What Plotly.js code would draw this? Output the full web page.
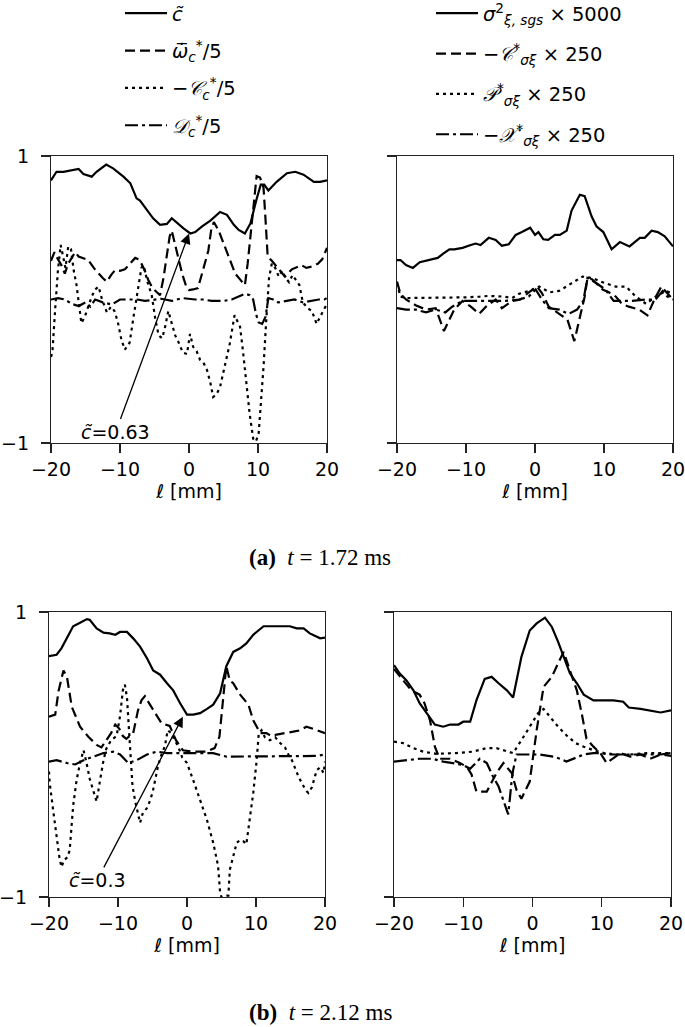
<!DOCTYPE html>
<html>
<head>
<meta charset="utf-8">
<script src="https://cdn.plot.ly/plotly-3.0.1.min.js"></script>
<style>html,body{margin:0;padding:0;background:#fff;}#plot{width:685px;height:1027px;}</style>
</head>
<body>
<div id="plot"></div>
<script>
// ---------- DATA ----------
// Panel (a) left, t = 1.72 ms
const aL_c_x = [-20,-19.2,-18.2,-17.2,-16,-15.3,-14.1,-13.4,-12,-11,-9.5,-8.5,-7.6,-7.1,-6.1,-5.2,-4.2,-3.2,-2.5,-1.8,-0.8,0.2,0.9,1.9,3.1,4.5,5.5,6.5,7.2,8.1,8.9,9.8,10.4,10.9,11.5,12.7,14.2,15.4,16.6,18.1,19,20];
const aL_c_y = [0.83,0.89,0.89,0.90,0.91,0.875,0.856,0.89,0.94,0.914,0.856,0.81,0.705,0.69,0.62,0.566,0.52,0.527,0.566,0.535,0.496,0.46,0.47,0.51,0.55,0.61,0.59,0.52,0.485,0.46,0.53,0.70,0.80,0.80,0.76,0.82,0.88,0.89,0.87,0.82,0.82,0.83];
const aL_w_x = [-20,-19.5,-19,-18.5,-18,-17.5,-17,-16.5,-16,-15.3,-14.6,-13.8,-13.1,-12.5,-11.9,-11.3,-10.7,-10,-9.3,-8.5,-7.8,-7.3,-6.9,-6.4,-5.9,-5.3,-4.7,-4.2,-3.7,-3.2,-2.8,-2.5,-2.1,-1.6,-1.0,-0.4,0.0,0.6,1.3,2.0,2.8,3.2,3.6,4.3,5.2,6.0,6.7,7.4,8.1,8.5,8.9,9.3,9.8,10.3,10.8,11.1,11.4,12.0,13.0,13.9,14.9,16.3,17.0,17.8,18.7,19.3,20];
const aL_w_y = [0.27,0.33,0.28,0.24,0.18,0.25,0.29,0.33,0.30,0.29,0.275,0.22,0.18,0.15,0.124,0.17,0.206,0.20,0.21,0.25,0.29,0.28,0.25,0.20,0.136,0.08,0.054,0.03,0.15,0.32,0.44,0.48,0.40,0.30,0.18,0.09,0.066,0.07,0.08,0.20,0.34,0.48,0.54,0.48,0.37,0.26,0.18,0.14,0.10,0.25,0.44,0.65,0.86,0.85,0.78,0.55,0.30,0.27,0.21,0.16,0.21,0.24,0.22,0.23,0.25,0.28,0.36];
const aL_C_x = [-20,-19.8,-19.4,-19.0,-18.6,-18.2,-17.9,-17.5,-17.1,-16.7,-16.3,-15.9,-15.6,-15.1,-14.6,-14.1,-13.6,-13.1,-12.6,-11.9,-11.3,-10.8,-10.3,-9.8,-9.3,-8.6,-8.1,-7.4,-6.9,-6.6,-6.0,-5.4,-4.9,-4.4,-3.9,-3.5,-3.0,-2.6,-2.0,-1.5,-0.9,-0.3,0.15,0.6,1.1,1.6,2.1,2.6,3.1,3.5,4.0,4.5,5.2,5.9,6.6,7.0,7.4,7.8,8.3,8.8,9.3,9.7,10.1,10.5,10.8,11.2,11.6,12.0,12.5,13.0,13.5,14.0,14.5,15.0,15.5,16.0,16.5,17.2,17.8,18.5,19.0,19.7,20];
const aL_C_y = [-0.40,-0.37,-0.07,0.20,0.38,0.30,0.22,0.37,0.35,0.20,0.10,-0.05,-0.165,-0.12,-0.05,0.02,0.07,0.09,0.0,-0.09,-0.05,-0.08,-0.16,-0.28,-0.35,-0.30,-0.14,0.09,0.22,0.24,0.12,0.03,-0.13,-0.25,-0.27,-0.20,-0.08,-0.15,-0.25,-0.30,-0.37,-0.38,-0.24,-0.33,-0.36,-0.42,-0.44,-0.49,-0.58,-0.68,-0.66,-0.61,-0.45,-0.31,-0.11,-0.15,-0.19,-0.35,-0.58,-0.80,-0.97,-0.99,-0.93,-0.70,-0.47,-0.14,0.15,0.25,0.22,0.16,0.20,0.15,0.12,0.17,0.13,0.10,-0.02,-0.06,-0.08,-0.17,-0.12,-0.05,-0.03];
const aL_D_x = [-20,-19,-18,-17,-16,-15,-14.3,-13.6,-12.5,-11.2,-10,-8.8,-7.5,-6.4,-5,-4,-2.5,-1,0.9,2,3.3,5,6.2,7.2,8.1,8.8,9.3,9.7,10.1,10.6,11.1,11.5,12.2,12.9,14,15.3,16.5,17.7,18.8,19.6,20];
const aL_D_y = [0.0,0.01,0.0,-0.03,-0.045,-0.02,-0.05,0.0,-0.02,-0.035,0.0,0.0,0.0,-0.01,0.0,0.005,-0.01,0.01,0.0,0.0,-0.01,-0.01,0.0,0.02,0.04,0.03,0.0,-0.10,-0.16,-0.17,-0.12,0.01,0.0,-0.02,-0.01,0.0,-0.02,-0.01,0.0,0.0,0.01];

// Panel (a) right
const aR_s_x = [-20,-19.5,-18.7,-17.7,-16.7,-15.3,-14.1,-13.3,-12.4,-11.7,-10.5,-9.3,-8.6,-7.9,-6.7,-5.7,-4.8,-3.8,-2.8,-1.9,-0.7,0.0,0.5,1.2,1.9,2.9,3.6,4.6,5.3,6.5,7.2,8.2,8.9,9.9,11.1,12.3,13.7,15.2,15.9,16.9,17.8,18.8,20];
const aR_s_y = [0.275,0.275,0.24,0.22,0.26,0.275,0.29,0.32,0.35,0.35,0.36,0.38,0.39,0.38,0.43,0.415,0.375,0.385,0.45,0.47,0.50,0.45,0.47,0.42,0.415,0.45,0.45,0.48,0.62,0.73,0.72,0.58,0.51,0.47,0.35,0.40,0.37,0.43,0.43,0.48,0.47,0.44,0.37];
const aR_C_x = [-20,-19.5,-18.7,-17.3,-15.8,-14.4,-13.2,-12.4,-11.7,-10.5,-9.3,-8.1,-7.1,-5.7,-4.8,-3.3,-2.1,-0.9,0.3,1.0,2.0,3.5,4.7,5.7,6.4,7.2,7.6,8.3,9.8,10.7,11.7,12.6,13.6,15.1,16.3,17.3,18.3,19.2,20];
const aR_C_y = [0.125,0.04,0.0,-0.04,-0.07,-0.06,-0.22,-0.14,-0.07,-0.01,-0.05,-0.10,-0.05,0.0,-0.06,-0.01,0.0,0.05,0.09,0.045,-0.05,-0.10,-0.14,-0.29,-0.14,0.02,0.15,0.14,0.07,0.05,0.02,-0.03,-0.05,-0.07,-0.11,0.0,0.09,0.045,0.0];
const aR_P_x = [-20,-19.5,-18.7,-16,-13,-10,-8,-6.7,-4.5,-3.3,-2.3,-0.8,0.6,2.1,3.5,5.5,6.9,8.3,9.8,11.7,13.2,14.6,16.1,17.5,19.0,20];
const aR_P_y = [0.113,0.02,0.01,0.01,0.01,0.015,0.02,0.025,0.02,0.01,0.04,0.06,0.09,0.05,0.06,0.12,0.16,0.15,0.12,0.09,0.09,0.02,-0.03,0.02,0.06,0.04];
const aR_X_x = [-20,-18.7,-17.3,-15.8,-14.4,-13.0,-12.0,-10.5,-9.1,-6.7,-4.3,-2.3,-0.9,0.1,1.0,2.0,3.5,4.9,6.1,7.0,7.6,8.7,10.2,11.4,12.6,14.1,16.0,17.5,18.5,19.2,20];
const aR_X_y = [-0.06,-0.07,-0.07,-0.09,-0.07,-0.09,-0.05,-0.01,-0.01,-0.01,-0.01,0.0,0.02,0.07,0.0,-0.06,-0.07,-0.10,-0.07,-0.01,0.15,0.12,0.07,-0.01,-0.01,-0.01,0.0,0.0,0.06,0.02,0.0];

// Panel (b) left, t = 2.12 ms
const bL_c_x = [-20,-18.9,-18.2,-17.4,-16.5,-15.5,-14.5,-14.1,-13.1,-12.1,-11.2,-10.4,-9.7,-8.7,-7.8,-6.8,-5.8,-4.9,-3.9,-2.9,-2.0,-1.0,0.0,0.9,1.9,2.9,3.8,4.8,5.7,6.7,7.7,8.6,9.6,11.1,12.5,14.0,14.9,15.9,16.9,17.8,18.6,19.3,20];
const bL_c_y = [0.69,0.70,0.745,0.815,0.90,0.925,0.95,0.945,0.885,0.855,0.85,0.84,0.86,0.86,0.815,0.757,0.675,0.59,0.56,0.50,0.45,0.36,0.28,0.28,0.29,0.32,0.35,0.43,0.62,0.72,0.745,0.78,0.84,0.90,0.90,0.90,0.90,0.885,0.885,0.85,0.83,0.815,0.82];
const bL_w_x = [-20,-19.1,-18.6,-17.9,-17.4,-16.7,-15.5,-14.3,-13.1,-12.4,-11.7,-11.0,-10.4,-9.8,-9.3,-8.8,-7.8,-7.1,-6.6,-6.1,-5.5,-4.9,-3.7,-2.5,-1.6,-0.6,0.8,2.8,4.0,4.7,5.2,5.7,6.2,6.7,7.7,8.9,9.6,10.6,11.5,12.2,13.0,14.4,15.4,16.4,17.3,18.3,19.3,20];
const bL_w_y = [0.265,0.28,0.45,0.59,0.545,0.335,0.195,0.125,0.067,0.05,0.10,0.15,0.21,0.18,0.13,0.11,0.15,0.31,0.38,0.41,0.36,0.31,0.22,0.20,0.10,0.03,0.02,0.02,0.045,0.125,0.36,0.62,0.52,0.50,0.42,0.35,0.24,0.15,0.15,0.13,0.14,0.15,0.16,0.17,0.195,0.18,0.16,0.15];
const bL_C_x = [-20,-19.9,-19.4,-18.9,-18.5,-18.2,-17.8,-17.3,-17.0,-16.5,-16.0,-15.5,-15.0,-14.6,-14.1,-13.6,-13.1,-12.6,-12.1,-11.7,-11.0,-10.2,-9.7,-9.3,-9.0,-8.7,-8.5,-8.2,-7.9,-7.5,-7.0,-6.8,-6.4,-5.7,-5.0,-4.2,-3.7,-3.2,-2.8,-2.3,-1.8,-1.3,-0.7,0.0,0.9,1.9,2.9,3.8,4.5,4.8,5.0,5.5,6.0,6.2,6.7,7.2,7.7,8.2,8.6,9.1,9.6,10.1,10.4,10.8,11.3,12.0,12.8,13.5,14.2,14.7,15.2,16.2,17.2,17.6,18.1,18.8,19.3,19.8,20];
const bL_C_y = [-0.12,-0.20,-0.39,-0.58,-0.72,-0.79,-0.74,-0.72,-0.67,-0.36,-0.18,-0.06,0.03,-0.05,-0.17,-0.25,-0.33,-0.18,-0.04,0.04,0.10,0.13,0.27,0.45,0.49,0.40,0.25,-0.03,-0.22,-0.33,-0.45,-0.48,-0.41,-0.37,-0.27,-0.08,0.0,0.06,0.17,0.15,0.10,0.06,-0.02,-0.06,-0.18,-0.32,-0.46,-0.62,-0.78,-0.97,-1.0,-0.99,-0.99,-0.81,-0.72,-0.62,-0.60,-0.61,-0.63,-0.46,-0.27,-0.04,0.15,0.17,0.12,0.10,0.12,0.08,0.05,0.0,-0.04,-0.16,-0.25,-0.27,-0.23,-0.11,-0.09,-0.13,-0.05];
const bL_D_x = [-20,-18.9,-17.4,-16.2,-15.0,-13.6,-12.1,-10.7,-9.7,-8.5,-7.3,-5.8,-4.4,-2.9,-1.5,0.0,1.9,3.8,5.7,7.7,9.6,11.5,14.0,16.4,18.8,20];
const bL_D_y = [-0.05,-0.04,-0.06,-0.07,-0.04,-0.015,0.01,0.02,0.0,-0.06,-0.04,0.0,0.02,0.01,0.01,0.01,0.01,0.01,-0.015,-0.015,-0.01,-0.015,-0.015,-0.015,-0.01,0.0];

// Panel (b) right
const bR_s_x = [-20,-19.2,-18.2,-17.2,-16.3,-15.3,-14.1,-12.9,-11.9,-10.7,-10.0,-9.0,-8.1,-6.9,-5.9,-4.9,-3.7,-2.8,-1.6,-0.4,0.6,1.8,2.8,3.7,4.5,5.4,6.4,7.4,8.8,10.3,11.7,13.1,13.9,15.6,17.0,18.5,20];
const bR_s_y = [0.627,0.57,0.52,0.45,0.36,0.29,0.21,0.195,0.21,0.21,0.23,0.23,0.38,0.53,0.545,0.50,0.45,0.40,0.685,0.87,0.92,0.96,0.895,0.79,0.685,0.57,0.50,0.42,0.38,0.38,0.38,0.37,0.33,0.32,0.31,0.295,0.31];
const bR_C_x = [-20,-18.7,-17.5,-16.3,-15.6,-14.8,-14.1,-13.4,-11.9,-10.5,-9.5,-8.8,-8.1,-6.6,-5.9,-5.2,-4.2,-3.0,-2.3,-1.6,-0.4,0.6,1.6,2.8,3.7,4.5,5.4,6.4,7.1,7.8,8.8,9.8,10.7,11.5,12.7,14.1,15.6,17.0,18.5,20];
const bR_C_y = [0.60,0.52,0.45,0.42,0.36,0.24,0.055,-0.03,-0.03,-0.06,-0.085,-0.14,-0.26,-0.26,-0.19,-0.13,-0.06,-0.13,-0.25,-0.31,-0.19,0.17,0.475,0.545,0.64,0.72,0.59,0.45,0.29,0.11,0.055,0.01,-0.06,-0.03,0.01,-0.015,0.0,-0.03,0.0,-0.01];
const bR_P_x = [-20,-18.7,-17.2,-15.8,-13.9,-11.0,-8.6,-6.6,-5.2,-3.7,-2.8,-1.6,-0.4,0.8,1.6,2.5,3.7,4.9,6.2,7.4,8.8,10.3,12.2,14.1,16.5,18.5,20];
const bR_P_y = [0.09,0.08,0.045,0.02,0.005,0.01,0.02,0.045,0.045,0.02,0.01,0.10,0.195,0.29,0.32,0.265,0.195,0.135,0.08,0.055,0.03,0.01,0.0,0.0,0.01,0.01,0.01];
const bR_X_x = [-20,-18.2,-16.3,-14.4,-12.9,-11.5,-10.0,-9.0,-7.6,-6.6,-5.7,-4.9,-4.2,-3.5,-3.0,-2.8,-2.3,-0.8,1.1,3.0,4.0,4.9,5.9,7.4,8.8,9.8,11.2,13.1,15.6,18.5,20];
const bR_X_y = [-0.05,-0.04,-0.03,-0.03,-0.05,-0.06,-0.075,-0.10,-0.03,-0.06,-0.155,-0.225,-0.32,-0.42,-0.18,-0.11,0.0,0.0,0.0,-0.015,-0.03,-0.05,-0.03,0.0,0.01,0.01,0.0,0.0,0.0,0.0,0.01];

// Labels
const namesLeft = ['<i>c̃</i>', '<i>ω\u0307\u0305</i><sub><i>c</i></sub><sup>*</sup>/5', '−<i>𝒞</i><sub><i>c</i></sub><sup>*</sup>/5', '<i>𝒟</i><sub><i>c</i></sub><sup>*</sup>/5'];
const namesRight = ['<i>σ</i><sup>2</sup><sub><i>ξ, sgs</i></sub> × 5000', '−<i>𝒞</i><sup>*</sup><sub><i>σξ</i></sub> × 250', '<i>𝒫</i><sup>*</sup><sub><i>σξ</i></sub> × 250', '−<i>𝒳</i><sup>*</sup><sub><i>σξ</i></sub> × 250'];
const xTicks = [-20,-10,0,10,20];
const xTitle = 'ℓ [mm]';
const captions = ['<b>(a)</b>  <i>t</i> = 1.72 ms', '<b>(b)</b>  <i>t</i> = 2.12 ms'];
const annTexts = ['<i>c̃</i>=0.63', '<i>c̃</i>=0.3'];

// ---------- STYLE ----------
const W = 685, H = 1027;
const LW = 2.2;
const dashes = ['solid', '10px,5px', '3px,4px', '13px,4px,3px,4px'];
const FONT = 'DejaVu Sans, sans-serif';

function tr(x, y, k, xa, ya, name, leg) {
  return {x: x, y: y, type: 'scatter', mode: 'lines', xaxis: xa, yaxis: ya,
    line: {color: '#000', width: LW, dash: dashes[k]},
    name: name || '', showlegend: !!leg, legend: leg || 'legend', legendgroup: (leg || 'n') + k,
    hoverinfo: 'skip'};
}

const data = [
  tr(aL_c_x, aL_c_y, 0, 'x', 'y', namesLeft[0], 'legend'),
  tr(aL_w_x, aL_w_y, 1, 'x', 'y', namesLeft[1], 'legend'),
  tr(aL_C_x, aL_C_y, 2, 'x', 'y', namesLeft[2], 'legend'),
  tr(aL_D_x, aL_D_y, 3, 'x', 'y', namesLeft[3], 'legend'),
  tr(aR_s_x, aR_s_y, 0, 'x2', 'y2', namesRight[0], 'legend2'),
  tr(aR_C_x, aR_C_y, 1, 'x2', 'y2', namesRight[1], 'legend2'),
  tr(aR_P_x, aR_P_y, 2, 'x2', 'y2', namesRight[2], 'legend2'),
  tr(aR_X_x, aR_X_y, 3, 'x2', 'y2', namesRight[3], 'legend2'),
  tr(bL_c_x, bL_c_y, 0, 'x3', 'y3'),
  tr(bL_w_x, bL_w_y, 1, 'x3', 'y3'),
  tr(bL_C_x, bL_C_y, 2, 'x3', 'y3'),
  tr(bL_D_x, bL_D_y, 3, 'x3', 'y3'),
  tr(bR_s_x, bR_s_y, 0, 'x4', 'y4'),
  tr(bR_C_x, bR_C_y, 1, 'x4', 'y4'),
  tr(bR_P_x, bR_P_y, 2, 'x4', 'y4'),
  tr(bR_X_x, bR_X_y, 3, 'x4', 'y4')
];

function xax(x0, x1, anchor) {
  return {domain: [x0 / W, x1 / W], anchor: anchor, range: [-20, 20], tickvals: xTicks,
    ticks: 'outside', ticklen: 9, tickwidth: 1.2, tickcolor: '#222',
    showline: true, mirror: true, linecolor: '#222', linewidth: 1.2,
    showgrid: false, zeroline: false, fixedrange: true, ticklabeloverflow: 'allow',
    tickfont: {family: FONT, size: 19, color: '#000'},
    title: {text: xTitle, font: {family: FONT, size: 19, color: '#000'}, standoff: 2}};
}
function yax(y0, y1, anchor, labels) {
  return {domain: [1 - y1 / H, 1 - y0 / H], anchor: anchor, range: [-1, 1], tickvals: [-1, 1],
    ticktext: ['−1', '1'], showticklabels: labels, ticklabelstandoff: 8,
    ticks: 'outside', ticklen: 9, tickwidth: 1.2, tickcolor: '#222',
    showline: true, mirror: true, linecolor: '#222', linewidth: 1.2,
    showgrid: false, zeroline: false, fixedrange: true, ticklabeloverflow: 'allow',
    tickfont: {family: FONT, size: 19, color: '#000'}};
}

const layout = {
  width: W, height: H, margin: {l: 0, r: 0, t: 0, b: 0, autoexpand: false},
  paper_bgcolor: '#fff', plot_bgcolor: '#fff',
  font: {family: FONT, size: 19, color: '#000'},
  xaxis: xax(51, 327, 'y'), yaxis: yax(156, 443, 'x', true),
  xaxis2: xax(397, 673, 'y2'), yaxis2: yax(156, 443, 'x2', false),
  xaxis3: xax(49, 325, 'y3'), yaxis3: yax(612, 897, 'x3', true),
  xaxis4: xax(394, 671, 'y4'), yaxis4: yax(612, 897, 'x4', false),
  legend: {x: 120 / W, y: 1 + 6 / H, xanchor: 'left', yanchor: 'top', bgcolor: 'rgba(0,0,0,0)',
    font: {family: FONT, size: 19.5, color: '#000'}, tracegroupgap: 9, itemwidth: 42, traceorder: 'grouped'},
  legend2: {x: 431 / W, y: 1 + 6 / H, xanchor: 'left', yanchor: 'top', bgcolor: 'rgba(0,0,0,0)',
    font: {family: FONT, size: 19.5, color: '#000'}, tracegroupgap: 12, itemwidth: 42, traceorder: 'grouped'},
  annotations: [
    {xref: 'x', yref: 'y', x: 0.0, y: 0.46, axref: 'x', ayref: 'y', ax: -10.6, ay: -0.92,
     text: annTexts[0], showarrow: true, arrowhead: 2, arrowsize: 1.6, arrowwidth: 1.3, arrowcolor: '#000',
     font: {family: FONT, size: 19, color: '#000'}},
    {xref: 'x3', yref: 'y3', x: -0.6, y: 0.265, axref: 'x3', ayref: 'y3', ax: -13.0, ay: -0.88,
     text: annTexts[1], showarrow: true, arrowhead: 2, arrowsize: 1.6, arrowwidth: 1.3, arrowcolor: '#000',
     font: {family: FONT, size: 19, color: '#000'}},
    {xref: 'paper', yref: 'paper', x: 320 / W, y: 1 - 557 / H, xanchor: 'center', yanchor: 'middle',
     text: captions[0], showarrow: false, font: {family: 'Liberation Serif, serif', size: 23, color: '#000'}},
    {xref: 'paper', yref: 'paper', x: 320 / W, y: 1 - 1012 / H, xanchor: 'center', yanchor: 'middle',
     text: captions[1], showarrow: false, font: {family: 'Liberation Serif, serif', size: 23, color: '#000'}}
  ]
};

Plotly.newPlot('plot', data, layout, {staticPlot: true, displayModeBar: false});
</script>
</body>
</html>
